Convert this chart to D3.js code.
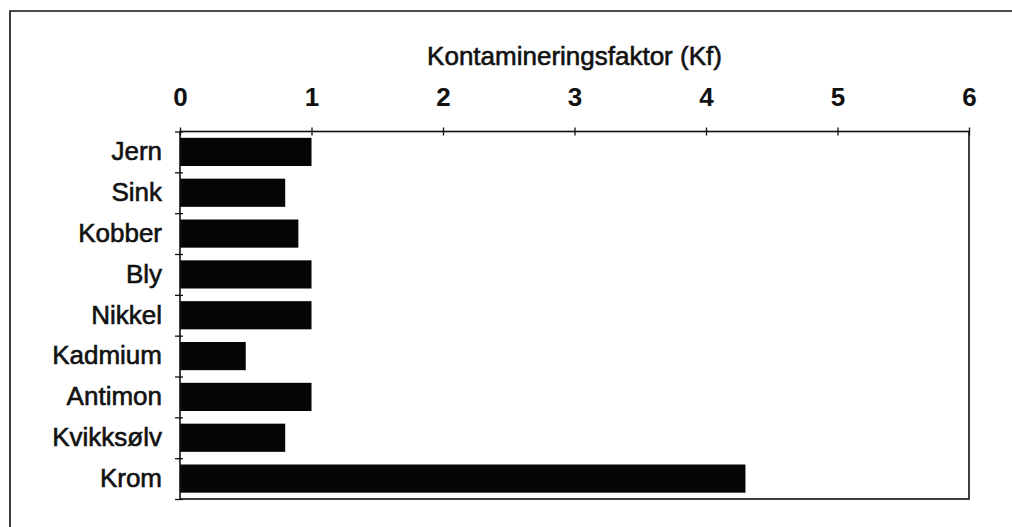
<!DOCTYPE html>
<html>
<head>
<meta charset="utf-8">
<script src="https://cdn.jsdelivr.net/npm/d3@7"></script>
<style>
  body { margin: 0; background: #fff; }
  text { font-family: "Liberation Sans", Arial, sans-serif; fill: #111; }
  .heavy { stroke: #111; stroke-width: 0.6px; }
</style>
</head>
<body>
<div id="chart"></div>
<script>
var metals = ["Jern", "Sink", "Kobber", "Bly", "Nikkel", "Kadmium", "Antimon", "Kvikksølv", "Krom"];
var kf = [1.0, 0.8, 0.9, 1.0, 1.0, 0.5, 1.0, 0.8, 4.3];
var xTicks = [0, 1, 2, 3, 4, 5, 6];
var axisTitle = "Kontamineringsfaktor (Kf)";

var W = 1012, H = 527;
var margin = {left: 180, top: 131.5, right: 43, bottom: 28};
var width = W - margin.left - margin.right;
var height = H - margin.top - margin.bottom;

var svg = d3.select("#chart").append("svg")
  .attr("width", W)
  .attr("height", H);

// outer frame (cut off at right / bottom like the scan)
svg.append("path")
  .attr("d", "M10," + H + " L10,11 L" + W + ",11")
  .attr("fill", "none")
  .attr("stroke", "#111")
  .attr("stroke-width", 1.6);

var g = svg.append("g")
  .attr("transform", "translate(" + margin.left + "," + margin.top + ")");

var x = d3.scaleLinear().domain([0, 6]).range([0, width]);
var y = d3.scaleBand().domain(metals).range([0, height]).paddingInner(0.31).paddingOuter(0.155);
var yEdge = d3.scaleLinear().domain([0, metals.length]).range([0, height]);

// bars
g.selectAll("rect.bar")
  .data(metals)
  .enter().append("rect")
    .attr("class", "bar")
    .attr("x", x(0))
    .attr("y", d => y(d))
    .attr("width", (d, i) => x(kf[i]) - x(0))
    .attr("height", y.bandwidth())
    .attr("fill", "#050505");

// plot frame
g.append("rect")
  .attr("width", width)
  .attr("height", height)
  .attr("fill", "none")
  .attr("stroke", "#111")
  .attr("stroke-width", 1.6);

// top axis
var xAxis = d3.axisTop(x).tickValues(xTicks).tickSize(4).tickPadding(22).tickFormat(d3.format("d"));
var gx = g.append("g").call(xAxis);
gx.select(".domain").remove();
gx.selectAll(".tick line").attr("y2", -4).attr("y1", 4).attr("stroke", "#111").attr("stroke-width", 1.3);
gx.selectAll(".tick text").attr("font-size", 26).attr("font-weight", "bold").attr("dy", 0);

// left axis: ticks on category boundaries
var yTickAxis = d3.axisLeft(yEdge).tickValues(d3.range(metals.length + 1)).tickSize(5).tickFormat("");
var gyt = g.append("g").call(yTickAxis);
gyt.select(".domain").remove();
gyt.selectAll(".tick line").attr("x1", 3).attr("x2", -5).attr("stroke", "#111").attr("stroke-width", 1.3);

var yAxis = d3.axisLeft(y).tickSize(0).tickPadding(18);
var gy = g.append("g").call(yAxis);
gy.select(".domain").remove();
gy.selectAll(".tick text").attr("font-size", 26).attr("class", "heavy");

// axis title
g.append("text")
  .attr("class", "heavy")
  .attr("x", width / 2)
  .attr("y", 65 - margin.top)
  .attr("text-anchor", "middle")
  .attr("font-size", 26)
  .text(axisTitle);
</script>
</body>
</html>
